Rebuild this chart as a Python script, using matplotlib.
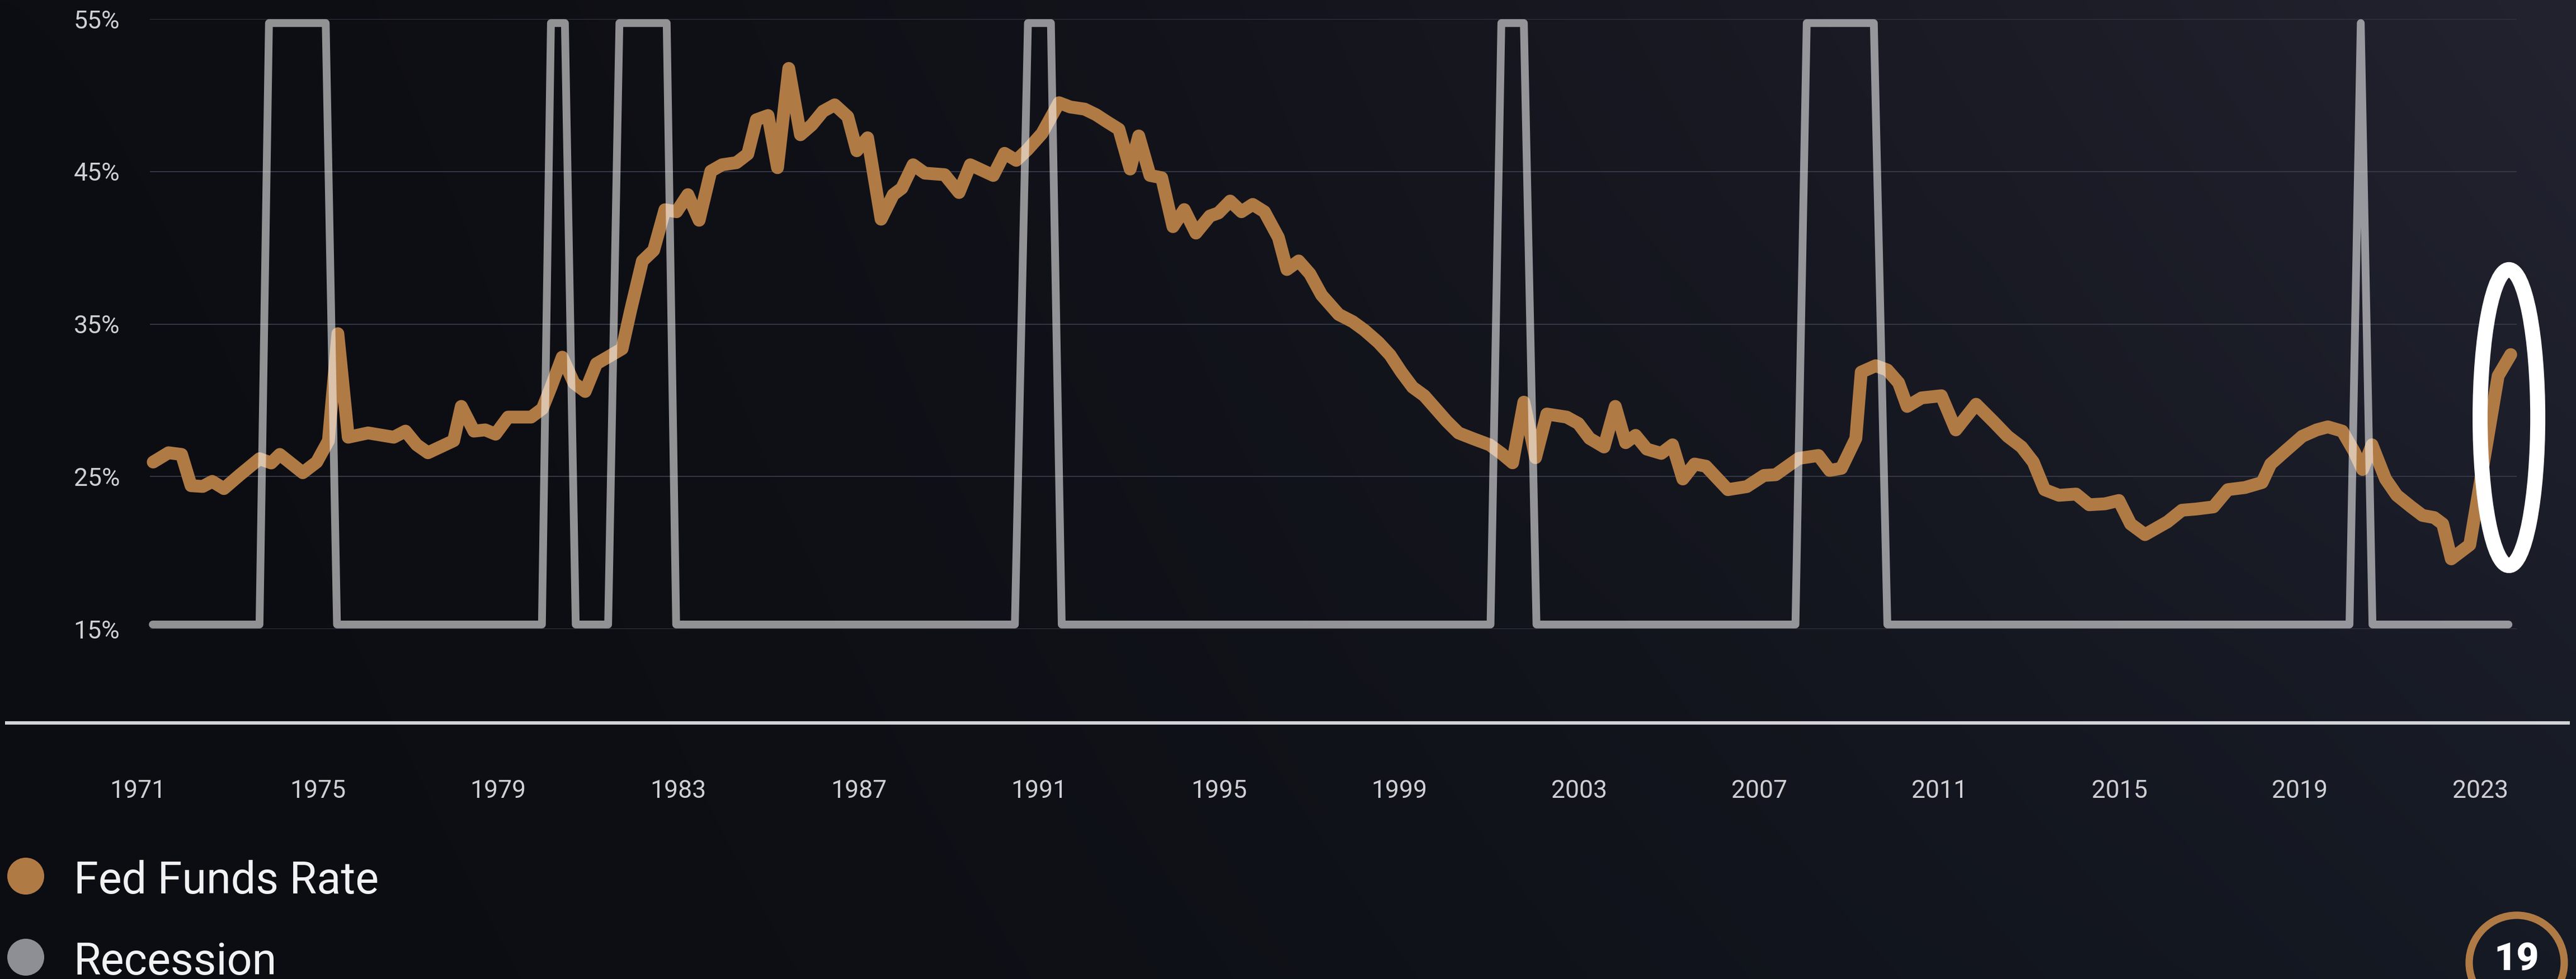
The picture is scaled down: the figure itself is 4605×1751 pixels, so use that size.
import numpy as np
import matplotlib.pyplot as plt
from matplotlib.patches import Circle, Ellipse
from matplotlib.ticker import PercentFormatter

plt.rcParams['font.family'] = ['Roboto', 'DejaVu Sans']

W, H, DPI = 4605, 1751, 100

# quarterly fed funds rate, as plotted (turning points only)
rate_years = [
    1971.34, 1971.68, 1971.97, 1972.18, 1972.44, 1972.65, 1972.91, 1973.26, 1973.70, 1973.96,
    1974.15, 1974.66, 1974.97, 1975.23, 1975.44, 1975.67, 1976.11, 1976.68, 1976.94, 1977.19,
    1977.44, 1978.01, 1978.18, 1978.46, 1978.71, 1978.94, 1979.22, 1979.73, 1979.98, 1980.17,
    1980.42, 1980.68, 1980.93, 1981.18, 1981.75, 1981.94, 1982.20, 1982.45, 1982.70, 1982.96,
    1983.21, 1983.46, 1983.72, 1983.97, 1984.29, 1984.54, 1984.73, 1984.99, 1985.20, 1985.45,
    1985.71, 1985.96, 1986.21, 1986.47, 1986.76, 1986.96, 1987.20, 1987.50, 1987.77, 1987.96,
    1988.21, 1988.47, 1988.91, 1989.23, 1989.48, 1989.99, 1990.24, 1990.50, 1990.75, 1991.07,
    1991.45, 1991.70, 1992.02, 1992.27, 1992.52, 1992.78, 1993.03, 1993.22, 1993.47, 1993.73,
    1993.98, 1994.23, 1994.49, 1994.80, 1994.99, 1995.25, 1995.50, 1995.75, 1996.01, 1996.32,
    1996.51, 1996.77, 1997.02, 1997.28, 1997.66, 1997.97, 1998.23, 1998.54, 1998.80, 1999.05,
    1999.30, 1999.56, 1999.81, 2000.06, 2000.32, 2000.63, 2001.01, 2001.27, 2001.52, 2001.77,
    2002.03, 2002.28, 2002.72, 2002.98, 2003.23, 2003.55, 2003.80, 2004.03, 2004.25, 2004.50,
    2004.82, 2005.07, 2005.30, 2005.56, 2005.81, 2006.30, 2006.72, 2007.10, 2007.36, 2007.87,
    2008.31, 2008.56, 2008.82, 2009.14, 2009.26, 2009.58, 2009.84, 2010.09, 2010.28, 2010.60,
    2011.04, 2011.36, 2011.81, 2012.19, 2012.51, 2012.82, 2013.08, 2013.33, 2013.65, 2014.03,
    2014.32, 2014.67, 2014.98, 2015.24, 2015.56, 2016.06, 2016.38, 2016.70, 2017.08, 2017.40,
    2017.78, 2018.16, 2018.35, 2018.67, 2019.05, 2019.37, 2019.62, 2019.94, 2020.20, 2020.39,
    2020.60, 2020.90, 2021.15, 2021.47, 2021.72, 2021.98, 2022.17, 2022.36, 2022.77, 2023.40,
    2023.68,
]
rate_values = [
    25.95, 26.56, 26.45, 24.40, 24.35, 24.68, 24.21, 25.10, 26.17, 25.89,
    26.45, 25.25, 25.95, 27.35, 34.37, 27.58, 27.86, 27.58, 27.98, 27.08,
    26.56, 27.35, 29.60, 27.98, 28.06, 27.78, 28.90, 28.90, 29.45, 30.86,
    32.83, 31.14, 30.58, 32.40, 33.38, 35.91, 39.14, 39.84, 42.50, 42.37,
    43.49, 41.81, 45.03, 45.45, 45.59, 46.16, 48.40, 48.68, 45.26, 51.77,
    47.42, 48.06, 48.96, 49.38, 48.60, 46.37, 47.22, 41.88, 43.49, 43.91,
    45.45, 44.90, 44.80, 43.63, 45.45, 44.75, 46.20, 45.74, 46.44, 47.50,
    49.52, 49.24, 49.10, 48.74, 48.26, 47.78, 45.17, 47.34, 44.75, 44.60,
    41.39, 42.51, 40.97, 42.09, 42.29, 43.07, 42.37, 42.85, 42.37, 40.68,
    38.58, 39.14, 38.30, 36.90, 35.63, 35.16, 34.60, 33.80, 32.97, 31.85,
    30.86, 30.30, 29.46, 28.62, 27.86, 27.50, 27.08, 26.52, 25.90, 29.88,
    26.24, 29.10, 28.90, 28.48, 27.50, 26.94, 29.60, 27.22, 27.70, 26.80,
    26.52, 27.08, 24.84, 25.82, 25.68, 24.14, 24.34, 25.07, 25.12, 26.19,
    26.38, 25.40, 25.54, 27.50, 31.85, 32.27, 31.99, 31.15, 29.60, 30.16,
    30.30, 28.06, 29.74, 28.62, 27.64, 26.94, 25.95, 24.14, 23.77, 23.85,
    23.15, 23.21, 23.43, 21.89, 21.19, 22.03, 22.79, 22.87, 23.01, 24.14,
    24.28, 24.61, 25.82, 26.66, 27.64, 28.06, 28.26, 27.98, 26.66, 25.46,
    27.08, 24.84, 23.77, 23.01, 22.45, 22.31, 21.89, 19.60, 20.52, 31.60,
    33.00,
]

# recession indicator (1 = recession), plotted on its own 0-1 scale
recession_years = [
    1971.33, 1973.70, 1973.91, 1975.17, 1975.42, 1979.97, 1980.17, 1980.48, 1980.72,
    1981.44, 1981.69, 1982.74, 1982.95, 1990.47, 1990.76, 1991.27, 1991.51,
    2001.03, 2001.27, 2001.77, 2002.05, 2007.80, 2008.05, 2009.54, 2009.84,
    2020.10, 2020.35, 2020.61, 2023.63,
]
recession_flags = [
    0, 0, 1, 1, 0, 0, 1, 1, 0,
    0, 1, 1, 0, 0, 1, 1, 0,
    0, 1, 1, 0, 0, 1, 1, 0,
    0, 1, 0, 0,
]

y_ticks = [15, 25, 35, 45, 55]
x_ticks = [1971, 1975, 1979, 1983, 1987, 1991, 1995, 1999, 2003, 2007, 2011, 2015, 2019, 2023]
legend_labels = ['Fed Funds Rate', 'Recession']
page_number = '19'

ORANGE = '#b07a45'
GREY = '#8e8f95'
TICK = '#cfcfd4'

fig = plt.figure(figsize=(W / DPI, H / DPI), dpi=DPI)

# full-page backdrop in pixel units: dark gradient, legend, baseline, page badge
bg = fig.add_axes([0, 0, 1, 1], zorder=0)
bg.set_xlim(0, W)
bg.set_ylim(H, 0)
bg.axis('off')
tl, tr = np.array([13, 14, 19]), np.array([35, 35, 48])
bl, br = np.array([12, 13, 18]), np.array([21, 26, 36])
u = (np.linspace(0, 1, 480) ** 1.6)[None, :, None]
v = np.linspace(0, 1, 180)[:, None, None]
grad = ((tl * (1 - u) + tr * u) * (1 - v) + (bl * (1 - u) + br * u) * v) / 255
bg.imshow(grad, extent=(0, W, H, 0), aspect='auto', interpolation='bilinear')

bg.plot([9, 4594], [1293, 1293], color='#d2d3d7', lw=4.4, solid_capstyle='butt')

for (cy, baseline), label, color in zip([(1567, 1598), (1712, 1743)], legend_labels, [ORANGE, GREY]):
    bg.add_patch(Circle((46, cy), 33, color=color, lw=0))
    bg.text(132, baseline, label, color='#f2f2f4', fontsize=57, va='baseline', ha='left')

bg.add_patch(Circle((4499, 1722), 85, fill=False, ec=ORANGE, lw=9.5))
bg.text(4499, 1735, page_number, color='white', fontsize=50, fontweight='black',
        ha='center', va='baseline')

# chart area; a little wider than the grid so the 1971 label fits inside the view
ax = fig.add_axes([230 / W, 1 - 1125 / H, (4510 - 230) / W, (1125 - 34.3) / H], zorder=1)
ax.set_facecolor('none')
for side in ax.spines.values():
    side.set_visible(False)
ax.tick_params(axis='both', length=0, colors=TICK, labelsize=32)
ax.tick_params(axis='x', pad=194)
ax.tick_params(axis='y', pad=11.5)

grid_start, grid_end = 1971.27, 2023.81
ax.hlines(y_ticks, grid_start, grid_end, color='#353846', lw=1.4, zorder=1)

ax.plot(rate_years, rate_values, color=ORANGE, lw=16.5,
        solid_joinstyle='round', solid_capstyle='round', zorder=2)

rec = ax.twinx()
rec.axis('off')
rec.plot(recession_years, recession_flags, color='white', alpha=0.55, lw=10,
         solid_joinstyle='round', solid_capstyle='round')

# highlight on the latest readings
rec.add_patch(Ellipse((2023.64, 0.344), 1.28, 0.492, fill=False, ec='white', lw=19.4,
                      clip_on=False, zorder=5))

# ticks first, limits last: set_xticks and the twin's autoscaling both move the view
ax.set_xticks(x_ticks)
ax.set_yticks(y_ticks)
ax.yaxis.set_major_formatter(PercentFormatter(decimals=0))
rec.set_ylim(-0.0075, 1.0065)
ax.set_ylim(15, 55)
ax.set_xlim(1970.795, 2023.949)

fig.savefig('out.png', dpi=DPI)
